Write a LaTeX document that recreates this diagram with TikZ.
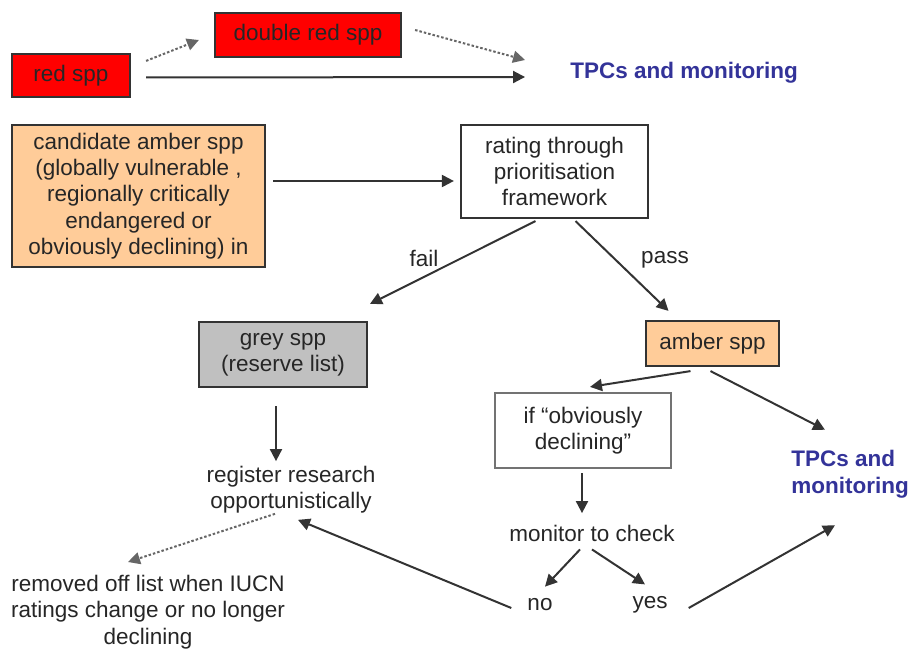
\documentclass[tikz,border=0pt]{standalone}
\usepackage{fontspec}
\setmainfont{Liberation Sans}
\usetikzlibrary{arrows.meta,calc}
\definecolor{amberfill}{HTML}{FFCC99}
\definecolor{greyfill}{HTML}{C0C0C0}
\definecolor{tpcblue}{HTML}{333399}
\definecolor{linegrey}{HTML}{333333}
\begin{document}
\begin{tikzpicture}[x=1pt,y=-1pt,
  every node/.style={font=\fontsize{22.5}{26.3}\selectfont, text=black!85},
  box/.style={draw=linegrey, line width=2.2pt, inner sep=0pt, align=center},
  plain/.style={inner sep=0pt, align=center},
  tpc/.style={inner sep=0pt, align=left, text=tpcblue, font=\fontsize{22.5}{27}\selectfont\bfseries},
  arr/.style={draw=linegrey, line width=2pt, -{Triangle[length=12pt,width=12pt]}},
  dotarr/.style={arr, draw=black!60, dash pattern=on 2.5pt off 2pt},
  lbl/.style={inner sep=0pt}
]
\useasboundingbox (0,0) rectangle (910,652);
% nodes
\node[box, fill=red, minimum width=118, minimum height=43] (red) at (71,75.5) {red spp};
\node[box, fill=red, minimum width=186, minimum height=44] (dbl) at (308,35) {double red spp};
\node[tpc] (tpc1) at (684,73) {TPCs and monitoring};
\node[box, fill=amberfill, minimum width=253, minimum height=142] (cand) at (138.5,196)
  {candidate amber spp\\(globally vulnerable ,\\regionally critically\\endangered or\\obviously declining) in};
\node[box, fill=white, minimum width=187, minimum height=93] (rate) at (554.5,171.5)
  {rating through\\prioritisation\\framework};
\node[box, fill=greyfill, minimum width=168, minimum height=65] (grey) at (283,354.5)
  {grey spp\\(reserve list)};
\node[box, fill=amberfill, minimum width=133, minimum height=45] (amber) at (712.5,343.5) {amber spp};
\node[box, draw=black!55, fill=white, minimum width=176, minimum height=75] (ifb) at (583,430.5)
  {if ``obviously\\declining''};
\node[tpc] (tpc2) at (850,474) {TPCs and\\monitoring};
\node[plain] (reg) at (291,490) {register research\\opportunistically};
\node[plain] (mon) at (592,533) {monitor to check};
\node[plain] (no) at (540,605) {no};
\node[plain] (yes) at (650,605) {yes};
\node[plain] (rem) at (148,612) {removed off list when IUCN\\ratings change or no longer\\declining};
% labels
\node[lbl] (fail) at (424,258) {fail};
\node[lbl] (pass) at (665,260) {pass};
% connectors
\draw[dotarr] ($(red.north east)+(15,8)$) -- ($(dbl.west)+(-15,5)$);
\draw[arr] ($(red.east)+(15,2)$) -- ($(tpc1.west)+(-45,4)$);
\draw[dotarr] ($(dbl.east)+(13,-5)$) -- ($(tpc1.west)+(-45,-13)$);
\draw[arr] ($(cand.east)+(7,-15)$) -- ($(rate.west)+(-6,9.5)$);
\draw[arr] ($(rate.south)+(-19,2)$) -- ($(grey.north)+(87,-17)$);
\draw[arr] ($(rate.south)+(21,2)$) -- ($(amber.north)+(-44,-9)$);
\draw[arr] ($(grey.south)+(-7,18)$) -- ($(grey.south)+(-7,73)$);
\draw[arr] ($(amber.south)+(-22,4)$) -- ($(ifb.north)+(7,-5)$);
\draw[arr] ($(amber.south)+(-2,4)$) -- ($(tpc2.north)+(-25,-20)$);
\draw[arr] ($(ifb.south)+(-1,4)$) -- ($(ifb.south)+(-1,44)$);
\draw[arr] ($(mon.south)+(-12,8)$) -- ($(no.north)+(5,-12)$);
\draw[arr] ($(mon.south)+(0,8)$) -- ($(yes.north)+(-5,-12)$);
\draw[arr] ($(no.west)+(-16,3)$) -- ($(reg.south)+(7,6)$);
\draw[arr] ($(yes.east)+(21,3)$) -- ($(tpc2.south)+(-15,27)$);
\draw[dotarr] ($(reg.south)+(-16,0)$) -- ($(rem.north)+(-20,-13)$);
\end{tikzpicture}
\end{document}
